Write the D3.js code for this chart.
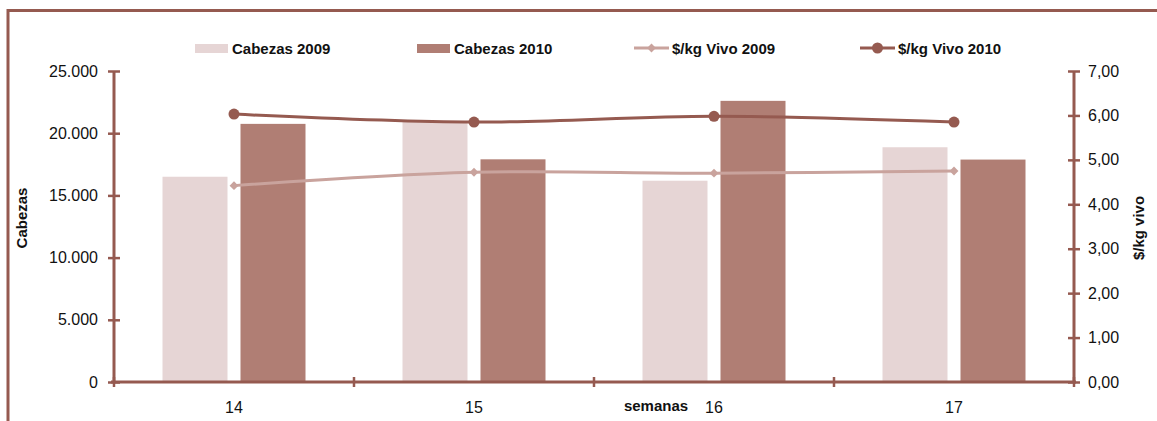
<!DOCTYPE html>
<html>
<head>
<meta charset="utf-8">
<script src="https://cdn.jsdelivr.net/npm/d3@7"></script>
<style>
  html, body { margin: 0; padding: 0; background: #fff; }
  svg { display: block; font-family: "Liberation Sans", Arial, sans-serif; }
</style>
</head>
<body>
<svg id="chart" width="1157" height="421"></svg>
<script>
const categories = ["14", "15", "16", "17"];
const cabezas2009 = [16500, 20900, 16180, 18870];
const cabezas2010 = [20750, 17900, 22600, 17880];
const precio2009 = [4.42, 4.72, 4.70, 4.75];
const precio2010 = [6.03, 5.85, 5.98, 5.85];
const leftTicks = [0, 5000, 10000, 15000, 20000, 25000];
const rightTicks = [0, 1, 2, 3, 4, 5, 6, 7];
const seriesNames = ["Cabezas 2009", "Cabezas 2010", "$/kg Vivo 2009", "$/kg Vivo 2010"];

const colBar09 = "#e6d5d5", colBar10 = "#b07e74";
const colLine09 = "#c9a39d", colLine10 = "#955a50";
const axisCol = "#955a50";

const svg = d3.select("#chart");
const W = 1157, H = 421;
const plot = { left: 114, right: 1074, top: 71, bottom: 382 };

// frame
svg.append("path")
  .attr("d", `M8,${H + 5} L8,10.5 L${W + 5},10.5`)
  .attr("fill", "none").attr("stroke", axisCol).attr("stroke-width", 3);

const x = d3.scaleBand().domain(categories).range([plot.left, plot.right]).padding(0);
const yL = d3.scaleLinear().domain([0, 25000]).range([plot.bottom, plot.top]);
const yR = d3.scaleLinear().domain([0, 7]).range([plot.bottom, plot.top]);

const fmtL = v => v === 0 ? "0" : d3.format(",")(v).replace(/,/g, ".");
const fmtR = v => d3.format(".2f")(v).replace(".", ",");

const barW = 65, gap = 13;
const bars = categories.map((c, i) => ({ c, v09: cabezas2009[i], v10: cabezas2010[i] }));

const g = svg.append("g");
g.selectAll("rect.b09").data(bars).enter().append("rect")
  .attr("x", d => x(d.c) + x.bandwidth() / 2 - gap / 2 - barW)
  .attr("width", barW)
  .attr("y", d => yL(d.v09))
  .attr("height", d => yL(0) - yL(d.v09))
  .attr("fill", colBar09);
g.selectAll("rect.b10").data(bars).enter().append("rect")
  .attr("x", d => x(d.c) + x.bandwidth() / 2 + gap / 2)
  .attr("width", barW)
  .attr("y", d => yL(d.v10))
  .attr("height", d => yL(0) - yL(d.v10))
  .attr("fill", colBar10);

// axes
function styleAxis(sel) {
  sel.select(".domain").attr("stroke", axisCol).attr("stroke-width", 3);
  sel.selectAll(".tick line").attr("stroke", axisCol).attr("stroke-width", 2.5);
  sel.selectAll(".tick text").attr("fill", "#111").attr("font-size", 16)
    .attr("font-family", "Liberation Sans, Arial, sans-serif");
}

const axL = svg.append("g").attr("transform", `translate(${plot.left},0)`)
  .call(d3.axisLeft(yL).tickValues(leftTicks).tickFormat(fmtL).tickSizeInner(4).tickSizeOuter(0).tickPadding(12));
styleAxis(axL);
axL.selectAll(".tick line").attr("x1", 6).attr("x2", -6);
axL.select(".domain").attr("d", `M0,${plot.top}V${plot.bottom}`);

const axR = svg.append("g").attr("transform", `translate(${plot.right},0)`)
  .call(d3.axisRight(yR).tickValues(rightTicks).tickFormat(fmtR).tickSizeInner(4).tickSizeOuter(0).tickPadding(10));
styleAxis(axR);
axR.selectAll(".tick line").attr("x1", -6).attr("x2", 6);
axR.select(".domain").attr("d", `M0,${plot.top}V${plot.bottom}`);

const axB = svg.append("g").attr("transform", `translate(0,${plot.bottom})`)
  .call(d3.axisBottom(x).tickSize(0).tickPadding(20));
styleAxis(axB);
axB.select(".domain").attr("d", `M${plot.left - 3},0H${plot.right + 2}`);
// boundary ticks
const bounds = d3.range(categories.length + 1).map(i => plot.left + i * x.step());
axB.selectAll("line.bt").data(bounds).enter().append("line")
  .attr("x1", d => d).attr("x2", d => d).attr("y1", -5).attr("y2", 5)
  .attr("stroke", axisCol).attr("stroke-width", 2.5);

// lines
const cx = c => x(c) + x.bandwidth() / 2;
const line09 = d3.line().x((d, i) => cx(categories[i])).y(d => yR(d)).curve(d3.curveCatmullRom.alpha(0.5));
svg.append("path").datum(precio2009).attr("d", line09)
  .attr("fill", "none").attr("stroke", colLine09).attr("stroke-width", 3);
svg.selectAll("path.dia").data(precio2009).enter().append("path")
  .attr("d", d3.symbol().type(d3.symbolDiamond2).size(50))
  .attr("transform", (d, i) => `translate(${cx(categories[i])},${yR(d)})`)
  .attr("fill", colLine09);

svg.append("path").datum(precio2010).attr("d", line09)
  .attr("fill", "none").attr("stroke", colLine10).attr("stroke-width", 3);
svg.selectAll("circle.p10").data(precio2010).enter().append("circle")
  .attr("cx", (d, i) => cx(categories[i])).attr("cy", d => yR(d)).attr("r", 5.5)
  .attr("fill", colLine10);

// axis titles
svg.append("text").attr("transform", `translate(27,218) rotate(-90)`)
  .attr("text-anchor", "middle").attr("font-weight", "bold").attr("font-size", 15).attr("fill", "#111")
  .text("Cabezas");
svg.append("text").attr("transform", `translate(1144,228) rotate(-90)`)
  .attr("text-anchor", "middle").attr("font-weight", "bold").attr("font-size", 15).attr("fill", "#111")
  .text("$/kg vivo");
svg.append("text").attr("x", 656).attr("y", 411)
  .attr("text-anchor", "middle").attr("font-weight", "bold").attr("font-size", 15).attr("fill", "#111")
  .text("semanas");

// legend
const legY = 48;
const legX = [195, 417, 634, 860];
const lg = svg.append("g");
seriesNames.forEach((name, i) => {
  const gx = legX[i];
  if (i < 2) {
    lg.append("rect").attr("x", gx).attr("y", legY - 4).attr("width", 33).attr("height", 9)
      .attr("fill", i === 0 ? colBar09 : colBar10);
  } else {
    const col = i === 2 ? colLine09 : colLine10;
    lg.append("line").attr("x1", gx).attr("x2", gx + 35).attr("y1", legY).attr("y2", legY)
      .attr("stroke", col).attr("stroke-width", 3);
    if (i === 2) {
      lg.append("path").attr("d", d3.symbol().type(d3.symbolDiamond2).size(50))
        .attr("transform", `translate(${gx + 17.5},${legY})`).attr("fill", col);
    } else {
      lg.append("circle").attr("cx", gx + 17.5).attr("cy", legY).attr("r", 5.5).attr("fill", col);
    }
  }
  lg.append("text").attr("x", gx + (i < 2 ? 37 : 38)).attr("y", legY + 5.5)
    .attr("font-weight", "bold").attr("font-size", 15).attr("fill", "#111").text(name);
});
</script>
</body>
</html>
